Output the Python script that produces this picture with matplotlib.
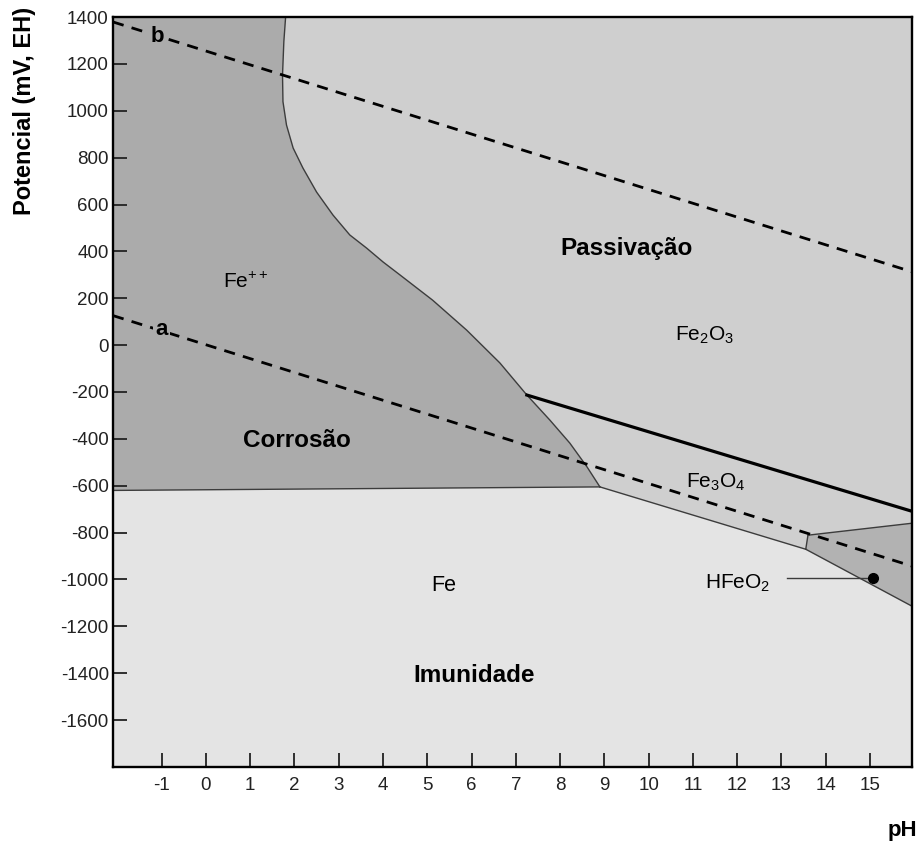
import numpy as np
import matplotlib; matplotlib.use('Agg')
from matplotlib import pyplot as plt

plt.rcParams['font.family'] = ['Liberation Sans', 'DejaVu Sans']
plt.rcParams['mathtext.fontset'] = 'custom'
plt.rcParams['mathtext.rm'] = 'Liberation Sans'
plt.rcParams['axes.unicode_minus'] = False

# boundary Fe++ / oxides (pH, mV)
curve_ph = np.array([1.80, 1.76, 1.73, 1.74, 1.82, 1.97, 2.19, 2.50, 2.87, 3.25,
                     3.63, 4.00, 4.38, 5.12, 5.89, 6.64, 7.25, 7.77, 8.22, 8.61, 8.90])
curve_e = np.array([1400, 1295, 1153, 1039, 939, 841, 756, 653, 555, 470,
                    414, 355, 300, 192, 64, -76, -213, -320, -418, -520, -605])

# Fe++ / Fe
corr_ph = [-2.1, 8.90]
corr_e = [-620, -605]
# Fe3O4 / Fe
fe3o4_low_ph = [8.90, 13.55]
fe3o4_low_e = [-605, -871]
# Fe2O3 / Fe3O4 (thick)
fe2o3_ph = [7.25, 15.95]
fe2o3_e = [-213, -709]
# HFeO2 wedge
hfeo2_ph = [13.6, 15.95, 15.95, 13.55]
hfeo2_e = [-811, -760, -1114, -871]

# water lines a and b
line_a_ph = [-2.1, 15.95]
line_a_e = [126, -943]
line_b_ph = [-2.1, 15.95]
line_b_e = [1379, 313]

xticks = list(range(-1, 16))
yticks = list(range(-1600, 1401, 200))
xlim = (-2.1, 15.95)
ylim = (-1800, 1400)

dark = '#ababab'
mid = '#cfcfcf'
light = '#e4e4e4'
edge = '#3c3c3c'

fig = plt.figure(figsize=(9.2, 8.43), dpi=100)
ax = fig.add_axes([0.1228, 0.0902, 0.8685, 0.8896])
ax.set_facecolor(light)

# Fe++ region
poly_x = np.concatenate([[xlim[0]], curve_ph, [xlim[0]]])
poly_y = np.concatenate([[ylim[1]], curve_e, [corr_e[0]]])
ax.fill(poly_x, poly_y, color=dark, lw=0)

# Fe2O3 region
k = list(curve_ph).index(fe2o3_ph[0])
poly_x = np.concatenate([curve_ph[:k + 1], [fe2o3_ph[1], xlim[1]]])
poly_y = np.concatenate([curve_e[:k + 1], [fe2o3_e[1], ylim[1]]])
ax.fill(poly_x, poly_y, color=mid, lw=0)

# Fe3O4 region
poly_x = np.concatenate([curve_ph[k:], [fe3o4_low_ph[1], hfeo2_ph[0], hfeo2_ph[1], fe2o3_ph[1]]])
poly_y = np.concatenate([curve_e[k:], [fe3o4_low_e[1], hfeo2_e[0], hfeo2_e[1], fe2o3_e[1]]])
ax.fill(poly_x, poly_y, color=mid, lw=0)

# HFeO2 region
ax.fill(hfeo2_ph, hfeo2_e, color='#b2b2b2', lw=0)

# boundaries
ax.plot(curve_ph, curve_e, color=edge, lw=1.0)
ax.plot(corr_ph, corr_e, color=edge, lw=1.0)
ax.plot(fe3o4_low_ph, fe3o4_low_e, color=edge, lw=1.0)
ax.plot(hfeo2_ph[:2], hfeo2_e[:2], color=edge, lw=1.0)
ax.plot([hfeo2_ph[0], hfeo2_ph[3]], [hfeo2_e[0], hfeo2_e[3]], color=edge, lw=1.0)
ax.plot(hfeo2_ph[2:], hfeo2_e[2:], color=edge, lw=1.0)
ax.plot(fe2o3_ph, fe2o3_e, color='black', lw=2.3)

ax.plot(line_a_ph, line_a_e, color='black', lw=2, dashes=(4, 3))
ax.plot(line_b_ph, line_b_e, color='black', lw=2, dashes=(4, 3))
ax.text(-1.1, 1318, 'b', fontsize=16, fontweight='bold', ha='center', va='center',
        bbox=dict(facecolor=dark, edgecolor='none', pad=1.5))
ax.text(-1.0, 66, 'a', fontsize=16, fontweight='bold', ha='center', va='center',
        bbox=dict(facecolor=dark, edgecolor='none', pad=1.5))

# HFeO2 pointer
ax.plot([13.12, 15.07], [-994, -994], color=edge, lw=1.0)
ax.plot([15.07], [-994], 'o', color='black', ms=7)

# labels
ax.text(0.38, 244, r'Fe$^\mathregular{++}$', fontsize=15, ha='left', va='baseline')
ax.text(9.51, 384, 'Passivação', fontsize=17.5, fontweight='bold', ha='center', va='baseline')
ax.text(11.27, 22, r'Fe$_\mathregular{2}$O$_\mathregular{3}$', fontsize=15, ha='center', va='baseline')
ax.text(2.05, -435, 'Corrosão', fontsize=17.5, fontweight='bold', ha='center', va='baseline')
ax.text(11.52, -605, r'Fe$_\mathregular{3}$O$_\mathregular{4}$', fontsize=15, ha='center', va='baseline')
ax.text(5.37, -1049, 'Fe', fontsize=15.5, ha='center', va='baseline')
ax.text(6.05, -1438, 'Imunidade', fontsize=17.5, fontweight='bold', ha='center', va='baseline')
ax.text(12.02, -1036, r'HFeO$_\mathregular{2}$', fontsize=15, ha='center', va='baseline')

ax.set_xlim(xlim)
ax.set_ylim(ylim)
ax.set_xticks(xticks)
ax.set_yticks(yticks)
ax.tick_params(direction='in', length=10, width=1.3, labelsize=13.5, colors='#222222')
ax.tick_params(axis='x', pad=7)
ax.tick_params(axis='y', pad=3)
for s in ax.spines.values():
    s.set_linewidth(1.7)

fig.text(0.027, 0.9917, 'Potencial (mV, EH)', fontsize=17, fontweight='bold',
         rotation=90, ha='center', va='top')
fig.text(0.997, 0.0154, 'pH', fontsize=16, fontweight='bold', ha='right', va='center')

plt.savefig('out.png', dpi=100)
